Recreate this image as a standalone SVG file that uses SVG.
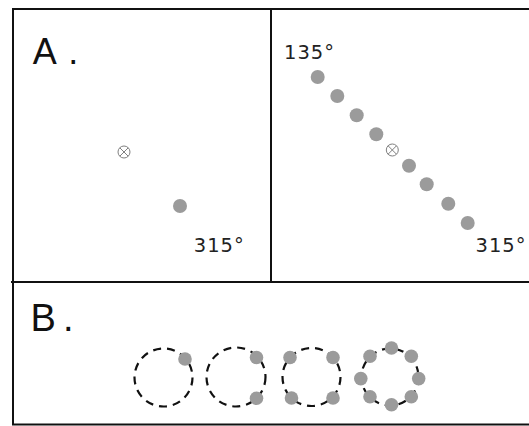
<svg xmlns="http://www.w3.org/2000/svg" width="529" height="426" viewBox="0 0 529 426">
<style>
.frame{fill:none;stroke:#111;stroke-width:2}
.lbl{font-family:"Liberation Sans",Arial,sans-serif;fill:#111}
.deg{font-family:"DejaVu Sans",Verdana,sans-serif;font-size:19.5px;letter-spacing:1px;fill:#222}
.dot{fill:#9b9b9b}
.ring{fill:none;stroke:#111;stroke-width:2.2;stroke-dasharray:8 6}
.cross{fill:none;stroke:#808080;stroke-width:1}
</style>
<defs>
<g id="fix"><circle class="cross" r="6"/><path class="cross" d="M-4.2,-4.2L4.2,4.2M4.2,-4.2L-4.2,4.2"/></g>
</defs>
<rect width="529" height="426" fill="#fff"/>
<g id="frame">
<rect class="frame" x="13" y="9" width="530" height="415.5"/>
<line class="frame" x1="271" y1="9" x2="271" y2="282"/>
<line class="frame" x1="11" y1="282" x2="529" y2="282"/>
</g>
<g id="panelA-left">
<text class="lbl" x="32.7" y="64" font-size="36">A<tspan dx="11.6">.</tspan></text>
<use href="#fix" x="124" y="152"/>
<circle class="dot" cx="180" cy="206" r="7"/>
<text class="deg" x="193.8" y="251.5">315°</text>
</g>
<g id="panelA-right">
<text class="deg" x="284" y="59">135°</text>
<circle class="dot" cx="317.7" cy="77" r="7"/>
<circle class="dot" cx="337.3" cy="96" r="7"/>
<circle class="dot" cx="356.7" cy="115.3" r="7"/>
<circle class="dot" cx="376.3" cy="134.3" r="7"/>
<use href="#fix" x="392.3" y="150"/>
<circle class="dot" cx="409" cy="165.7" r="7"/>
<circle class="dot" cx="426.7" cy="184.3" r="7"/>
<circle class="dot" cx="448.3" cy="203.7" r="7"/>
<circle class="dot" cx="467.7" cy="223" r="7"/>
<text class="deg" x="475.5" y="252">315°</text>
</g>
<g id="panelB">
<text class="lbl" x="30.5" y="331" font-size="38">B<tspan dx="7.2">.</tspan></text>
<g id="ring1">
<circle class="ring" cx="163.5" cy="377.5" r="29"/>
<circle class="dot" cx="185" cy="359" r="6.8"/>
</g>
<g id="ring2">
<circle class="ring" cx="236" cy="377" r="29.5"/>
<circle class="dot" cx="256.5" cy="357.5" r="6.8"/>
<circle class="dot" cx="256.5" cy="398.3" r="6.8"/>
</g>
<g id="ring3">
<circle class="ring" cx="311.5" cy="377" r="29"/>
<circle class="dot" cx="290" cy="357.5" r="6.8"/>
<circle class="dot" cx="333" cy="357.5" r="6.8"/>
<circle class="dot" cx="291.5" cy="398" r="6.8"/>
<circle class="dot" cx="333" cy="398" r="6.8"/>
</g>
<g id="ring4">
<circle class="ring" cx="390" cy="377" r="28.5"/>
<circle class="dot" cx="391.5" cy="348" r="6.8"/>
<circle class="dot" cx="370" cy="356.3" r="6.8"/>
<circle class="dot" cx="411.3" cy="356.3" r="6.8"/>
<circle class="dot" cx="360.8" cy="378.6" r="6.8"/>
<circle class="dot" cx="418.7" cy="378.6" r="6.8"/>
<circle class="dot" cx="370" cy="396.7" r="6.8"/>
<circle class="dot" cx="411.3" cy="396.7" r="6.8"/>
<circle class="dot" cx="391.5" cy="404.8" r="6.8"/>
</g>
</g>
</svg>
